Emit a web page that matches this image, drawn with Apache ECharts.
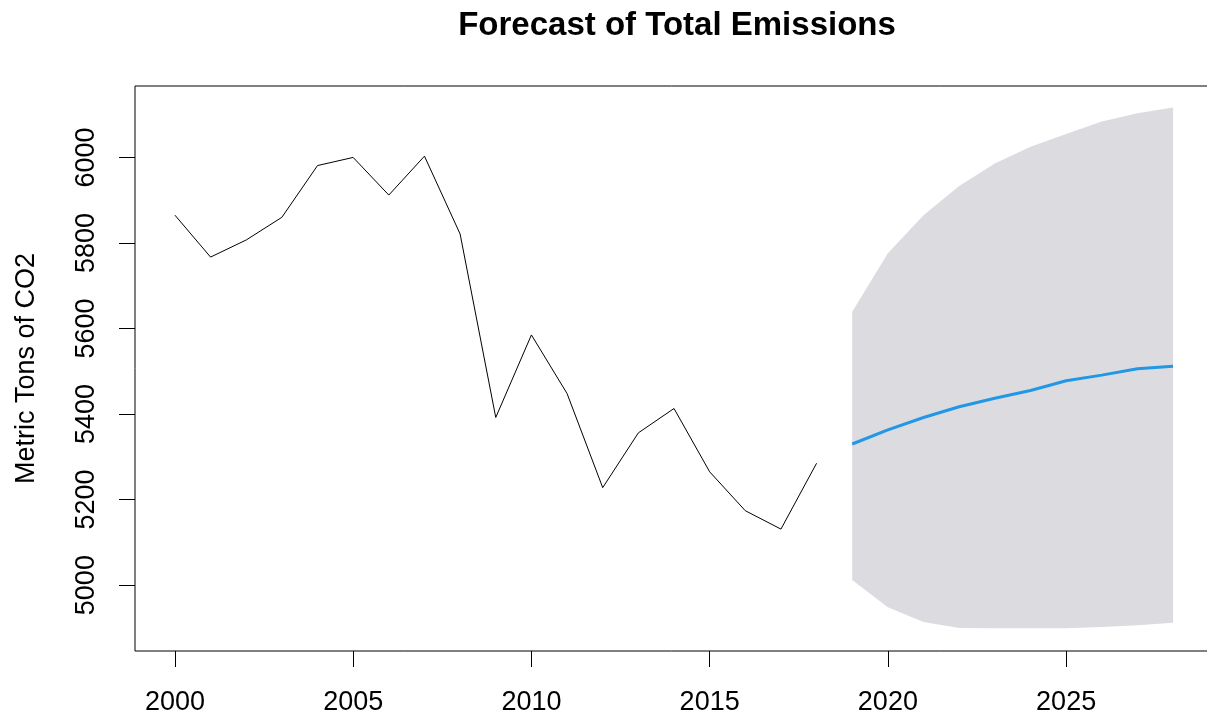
<!DOCTYPE html>
<html>
<head>
<meta charset="utf-8">
<script src="https://cdn.jsdelivr.net/npm/echarts@6/dist/echarts.min.js"></script>
<style>html,body{margin:0;padding:0;background:#fff}#c{width:1207px;height:721px}</style>
</head>
<body>
<div id="c"></div>
<script>
// Historical observations
var histYears = [2000,2001,2002,2003,2004,2005,2006,2007,2008,2009,2010,2011,2012,2013,2014,2015,2016,2017,2018];
var histValues = [5865,5767,5807,5860,5981,6000,5912,6003,5821,5392,5585,5448,5228,5356,5413,5265,5174,5131,5285];
// Forecast
var fcYears = [2019,2020,2021,2022,2023,2024,2025,2026,2027,2028];
var fcMean = [5330,5363,5392,5417,5437,5455,5478,5491,5506,5512];
var fcLower = [5012,4948,4914,4900,4899,4899,4899,4902,4906,4912];
var fcUpper = [5639,5776,5865,5933,5986,6025,6055,6084,6103,6117];
// Tick labels
var xTicks = [2000,2005,2010,2015,2020,2025];
var yTicks = [5000,5200,5400,5600,5800,6000];

var FONT = "'Liberation Sans', Arial, Helvetica, sans-serif";
var chart = echarts.init(document.getElementById('c'));

function pairs(xs, ys) { return xs.map(function (x, i) { return [x, ys[i]]; }); }

chart.setOption({
  animation: false,
  backgroundColor: '#ffffff',
  title: {
    text: 'Forecast of Total Emissions',
    left: 672, top: 4, textAlign: 'center',
    textStyle: { fontFamily: FONT, fontWeight: 'bold', fontSize: 33, color: '#000' }
  },
  grid: {
    left: 135, top: 86, bottom: 70, width: 1078,
    outerBoundsMode: 'none', containLabel: false,
    show: true, borderColor: '#000', borderWidth: 1, backgroundColor: 'transparent'
  },
  xAxis: {
    type: 'value', min: 1998.88, max: 2029.12,
    axisLine: { show: false },
    splitLine: { show: false },
    axisTick: { show: true, customValues: xTicks, length: 16, lineStyle: { color: '#000', width: 1 } },
    axisLabel: { customValues: xTicks, margin: 38, fontFamily: FONT, fontSize: 27, color: '#000',
      formatter: function (v) { return String(v); } }
  },
  yAxis: {
    type: 'value', min: 4846, max: 6167,
    name: 'Metric Tons of CO2', nameLocation: 'middle', nameRotate: 90, nameGap: 95,
    nameTextStyle: { fontFamily: FONT, fontSize: 27, color: '#000' },
    axisLine: { show: false },
    splitLine: { show: false },
    axisTick: { show: true, customValues: yTicks, length: 16, lineStyle: { color: '#000', width: 1 } },
    axisLabel: { customValues: yTicks, rotate: 90, margin: 35, fontFamily: FONT, fontSize: 27, color: '#000',
      formatter: function (v) { return String(v); } }
  },
  series: [
    {
      type: 'custom', silent: true,
      data: [[fcYears[0], fcLower[0]]],
      renderItem: function (params, api) {
        var pts = [];
        for (var i = 0; i < fcYears.length; i++) pts.push(api.coord([fcYears[i], fcUpper[i]]));
        for (var j = fcYears.length - 1; j >= 0; j--) pts.push(api.coord([fcYears[j], fcLower[j]]));
        return { type: 'polygon', shape: { points: pts }, style: { fill: '#dbdbe0', stroke: null } };
      }
    },
    {
      type: 'line', data: pairs(histYears, histValues), symbol: 'none',
      lineStyle: { color: '#000', width: 1 }
    },
    {
      type: 'line', data: pairs(fcYears, fcMean), symbol: 'none',
      lineStyle: { color: '#2297e6', width: 3 }
    }
  ]
});
</script>
</body>
</html>
